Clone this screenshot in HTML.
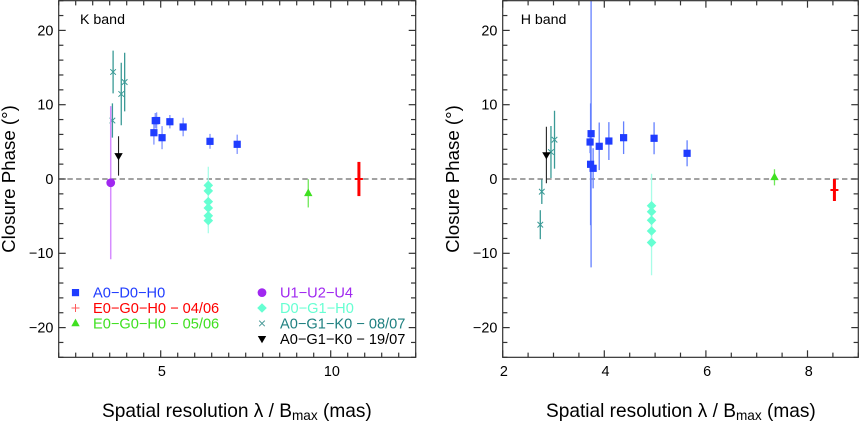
<!DOCTYPE html>
<html>
<head>
<meta charset="utf-8">
<title>Closure phase versus spatial resolution</title>
<style>
html,body{margin:0;padding:0;background:#fff;}
svg{display:block;font-family:"Liberation Sans",sans-serif;}
</style>
</head>
<body>
<svg id="chart" width="860" height="421" viewBox="0 0 860 421" xmlns="http://www.w3.org/2000/svg"></svg>
<script>
// K band data
const kBlueX = [4.80, 4.84, 4.88, 5.04, 5.27, 5.66, 6.45, 7.25];
const kBlueY = [6.23, 7.85, 7.87, 5.56, 7.71, 7.00, 5.07, 4.67];
const kBlueErr = [1.6, 1.04, 1.1, 1.55, 0.9, 1.25, 1.0, 1.3];
const kTealX = [3.60, 3.84, 3.94, 3.58];
const kTealY = [14.4, 11.44, 13.05, 7.87];
const kTealErr = [2.87, 4.2, 3.95, 2.3];
const kBlackX = [3.76];
const kBlackY = [3.1];
const kBlackErr = [2.65];
const kPurpleX = [3.53];
const kPurpleY = [-0.5];
const kPurpleErr = [10.3];
const kCyanX = [6.40, 6.40, 6.40, 6.40, 6.40, 6.40];
const kCyanY = [-0.85, -1.6, -3.05, -3.9, -4.95, -5.6];
const kCyanErr = [2.5, 1.5, 1.7, 2.0, 1.5, 1.7];
const kGreenX = [9.34];
const kGreenY = [-1.93];
const kGreenErr = [1.9];
const kRedX = [10.83];
const kRedY = [0];
const kRedErr = [2.3];

// H band data
const hBlueX = [3.74, 3.72, 3.73, 3.78, 3.90, 4.09, 4.38, 4.98, 5.63];
const hBlueY = [6.1, 4.98, 1.98, 1.44, 4.4, 5.11, 5.56, 5.48, 3.46];
const hBlueErr = [18, 1.5, 8.2, 2.7, 3.2, 2.55, 2.2, 2.15, 1.75];
const hTealX = [2.77, 2.74, 2.95, 3.02];
const hTealY = [-1.71, -6.15, 3.63, 5.29];
const hTealErr = [1.65, 1.95, 3.5, 3.9];
const hBlackX = [2.86];
const hBlackY = [3.23];
const hBlackErr = [3.8];
const hCyanX = [4.93, 4.93, 4.93, 4.93, 4.93];
const hCyanY = [-3.6, -4.4, -5.56, -7.0, -8.55];
const hCyanErr = [4.3, 1.0, 1.3, 1.5, 4.4];
const hGreenX = [7.35];
const hGreenY = [0.23];
const hGreenErr = [1.08];
const hRedX = [8.53];
const hRedY = [-1.48];
const hRedErr = [1.48];

// Axis labels
const yTickLabels = [-20, -10, 0, 10, 20];
const kXTickLabels = [5, 10];
const hXTickLabels = [2, 4, 6, 8];

const BLUE = '#1f3cff', RED = '#ff0000', GREEN = '#3fe020', PURPLE = '#a028f0', CYAN = '#66ffd2', TEAL = '#3a9a96', BLACK = '#000000';
const NS = 'http://www.w3.org/2000/svg';
const root = document.getElementById('chart');

function make(parent, tag, attrs, text) {
  const el = document.createElementNS(NS, tag);
  for (const k in attrs) el.setAttribute(k, attrs[k]);
  if (text !== undefined) el.textContent = text;
  parent.appendChild(el);
  return el;
}

function drawMarker(g, kind, cx, cy, color) {
  let el;
  if (kind === 'square') {
    el = make(g, 'rect', {x: cx - 3.6, y: cy - 3.6, width: 7.2, height: 7.2, fill: color});
  } else if (kind === 'diamond') {
    el = make(g, 'polygon', {points: `${cx},${cy - 4.8} ${cx + 4.8},${cy} ${cx},${cy + 4.8} ${cx - 4.8},${cy}`, fill: color});
  } else if (kind === 'circle') {
    el = make(g, 'circle', {cx: cx, cy: cy, r: 4.4, fill: color});
  } else if (kind === 'up') {
    el = make(g, 'polygon', {points: `${cx},${cy - 4.8} ${cx + 4.2},${cy + 2.8} ${cx - 4.2},${cy + 2.8}`, fill: color});
  } else if (kind === 'down') {
    el = make(g, 'polygon', {points: `${cx},${cy + 4.4} ${cx + 4.2},${cy - 2.8} ${cx - 4.2},${cy - 2.8}`, fill: color});
  } else if (kind === 'cross') {
    el = make(g, 'path', {d: `M${cx - 2.8} ${cy - 2.8}L${cx + 2.8} ${cy + 2.8}M${cx + 2.8} ${cy - 2.8}L${cx - 2.8} ${cy + 2.8}`, stroke: color, 'stroke-width': 1, fill: 'none'});
  } else {
    el = make(g, 'path', {d: `M${cx - 4} ${cy}H${cx + 4}M${cx} ${cy - 4}V${cy + 4}`, stroke: kind === 'plus-thin' ? '#ff5a5a' : color, 'stroke-width': kind === 'plus-thin' ? 1 : 2, fill: 'none'});
  }
  
  
}

function drawPanel(cfg) {
  const panel = make(root, 'g', {});
  
  
  const x = v => cfg.x0 + (v - cfg.xMin) * cfg.xScale;
  const y = v => 179 - v * 7.43;
  const left = x(cfg.xMin), right = x(cfg.xMax), top = y(24), bottom = y(-24);

  const clipId = cfg.name + '-clip';
  const defs = make(panel, 'defs', {});
  const clip = make(defs, 'clipPath', {id: clipId});
  make(clip, 'rect', {x: left, y: top, width: right - left, height: bottom - top});

  const zero = make(panel, 'line', {x1: left, x2: right, y1: y(0), y2: y(0), stroke: '#6a6a6a', 'stroke-width': 1.2, 'stroke-dasharray': '5.4 3.3'});
  
  

  const plot = make(panel, 'g', {'clip-path': `url(#${clipId})`});
  
  

  cfg.series.forEach(s => {
    const g = make(plot, 'g', {});
    
    
    s.xs.forEach((xv, i) => {
      const bar = make(g, 'line', {x1: x(xv), x2: x(xv), y1: y(s.ys[i] + s.errs[i]), y2: y(s.ys[i] - s.errs[i]), stroke: s.barColor || s.color, 'stroke-width': s.barWidth || 1.3});
      
      
    });
    s.xs.forEach((xv, i) => drawMarker(g, s.kind, x(xv), y(s.ys[i]), s.color));
  });

  const axes = make(panel, 'g', {stroke: '#333333', 'stroke-width': 1.2, fill: 'none'});
  
  
  make(axes, 'rect', {x: left, y: top, width: right - left, height: bottom - top});

  for (let v = -24; v <= 24; v += 2) {
    const len = v % 10 === 0 ? 7 : 4.7;
    make(axes, 'line', {x1: left, x2: left + len, y1: y(v), y2: y(v)});
    make(axes, 'line', {x1: right, x2: right - len, y1: y(v), y2: y(v)});
  }
  const nMinor = Math.round((cfg.xMax - cfg.xMin) / 0.5);
  for (let i = 0; i <= nMinor; i++) {
    const v = cfg.xMin + i * 0.5;
    const len = cfg.xLabels.includes(v) ? 7 : 4.7;
    make(axes, 'line', {x1: x(v), x2: x(v), y1: bottom, y2: bottom - len});
    make(axes, 'line', {x1: x(v), x2: x(v), y1: top, y2: top + len});
  }

  yTickLabels.forEach(v => {
    const t = make(panel, 'text', {x: left - 5.3, y: y(v) + 4.9, 'text-anchor': 'end', 'font-size': 14.4, fill: '#000'}, v < 0 ? '\u2212' + Math.abs(v) : String(v));
    
    
  });
  cfg.xLabels.forEach(v => {
    const t = make(panel, 'text', {x: x(v) + 1.2, y: 376, 'text-anchor': 'middle', 'font-size': 14.4, fill: '#000'}, String(v));
    
    
  });

  const yTitle = make(panel, 'text', {transform: `translate(${cfg.yTitleX},179) rotate(-90)`, 'text-anchor': 'middle', 'font-size': 18.7, fill: '#000'}, 'Closure Phase (\u00b0)');
  
  

  const xTitle = make(panel, 'text', {x: cfg.xTitleX, y: 417, 'font-size': 19.1, fill: '#000'});
  
  
  make(xTitle, 'tspan', {}, 'Spatial resolution \u03bb / B');
  make(xTitle, 'tspan', {dy: 3, 'font-size': 13.6}, 'max');
  make(xTitle, 'tspan', {dy: -3}, ' (mas)');

  const band = make(panel, 'text', {x: cfg.bandX, y: 24, 'font-size': 14.2, fill: '#000'}, cfg.band);
  
  
}

drawPanel({
  name: 'k-band-panel', band: 'K band', bandX: 80, x0: 58.7, xMin: 2, xMax: 12.5, xScale: 34,
  xLabels: kXTickLabels, yTitleX: 15, xTitleX: 102,
  series: [
    {name: 'series-a0-g1-k0-08-07', xs: kTealX, ys: kTealY, errs: kTealErr, color: TEAL, kind: 'cross'},
    {name: 'series-u1-u2-u4', xs: kPurpleX, ys: kPurpleY, errs: kPurpleErr, color: PURPLE, barColor: '#d68cff', barWidth: 1.5, kind: 'circle'},
    {name: 'series-a0-g1-k0-19-07', xs: kBlackX, ys: kBlackY, errs: kBlackErr, color: BLACK, barColor: '#222', barWidth: 1.1, kind: 'down'},
    {name: 'series-a0-d0-h0', xs: kBlueX, ys: kBlueY, errs: kBlueErr, color: BLUE, barColor: '#8094ff', kind: 'square'},
    {name: 'series-d0-g1-h0', xs: kCyanX, ys: kCyanY, errs: kCyanErr, color: CYAN, barColor: '#a8fde8', kind: 'diamond'},
    {name: 'series-e0-g0-h0-05-06', xs: kGreenX, ys: kGreenY, errs: kGreenErr, color: GREEN, barColor: '#6fe858', kind: 'up'},
    {name: 'series-e0-g0-h0-04-06', xs: kRedX, ys: kRedY, errs: kRedErr, color: RED, barWidth: 3, kind: 'plus'}
  ]
});

drawPanel({
  name: 'h-band-panel', band: 'H band', bandX: 520.7, x0: 502.7, xMin: 2, xMax: 9, xScale: 50.8,
  xLabels: hXTickLabels, yTitleX: 459, xTitleX: 546,
  series: [
    {name: 'series-a0-g1-k0-08-07', xs: hTealX, ys: hTealY, errs: hTealErr, color: TEAL, kind: 'cross'},
    {name: 'series-a0-g1-k0-19-07', xs: hBlackX, ys: hBlackY, errs: hBlackErr, color: BLACK, barColor: '#222', barWidth: 1.1, kind: 'down'},
    {name: 'series-a0-d0-h0', xs: hBlueX, ys: hBlueY, errs: hBlueErr, color: BLUE, barColor: '#6480ff', kind: 'square'},
    {name: 'series-d0-g1-h0', xs: hCyanX, ys: hCyanY, errs: hCyanErr, color: CYAN, barColor: '#a8fde8', kind: 'diamond'},
    {name: 'series-e0-g0-h0-05-06', xs: hGreenX, ys: hGreenY, errs: hGreenErr, color: GREEN, barColor: '#6fe858', kind: 'up'},
    {name: 'series-e0-g0-h0-04-06', xs: hRedX, ys: hRedY, errs: hRedErr, color: RED, barWidth: 3, kind: 'plus'}
  ]
});

// Legend entries
const legendLabels = ['A0\u2212D0\u2212H0', 'E0\u2212G0\u2212H0 \u2212 04/06', 'E0\u2212G0\u2212H0 \u2212 05/06', 'U1\u2212U2\u2212U4', 'D0\u2212G1\u2212H0', 'A0\u2212G1\u2212K0 \u2212 08/07', 'A0\u2212G1\u2212K0 \u2212 19/07'];
const legendColors = [BLUE, RED, GREEN, PURPLE, CYAN, '#4a9a98', BLACK];
const legendTextColors = [BLUE, '#ff0000', '#3fe020', '#a028f0', '#66ffd2', '#1f8080', '#000000'];
const legendKinds = ['square', 'plus-thin', 'up', 'circle', 'diamond', 'cross', 'down'];
const legendCol = [0, 0, 0, 1, 1, 1, 1];
const legendRow = [0, 1, 2, 0, 1, 2, 3];

const legend = make(root, 'g', {});


legendLabels.forEach((label, i) => {
  const rowY = 292.6 + legendRow[i] * 15.4;
  const entry = make(legend, 'g', {});
  
  
  drawMarker(entry, legendKinds[i], legendCol[i] ? 262 : 75.5, rowY, legendColors[i]);
  const t = make(entry, 'text', {x: legendCol[i] ? 280 : 93, y: rowY + 5, 'font-size': 14.6, fill: legendTextColors[i]}, label);
  
  
});
</script>
</body>
</html>
